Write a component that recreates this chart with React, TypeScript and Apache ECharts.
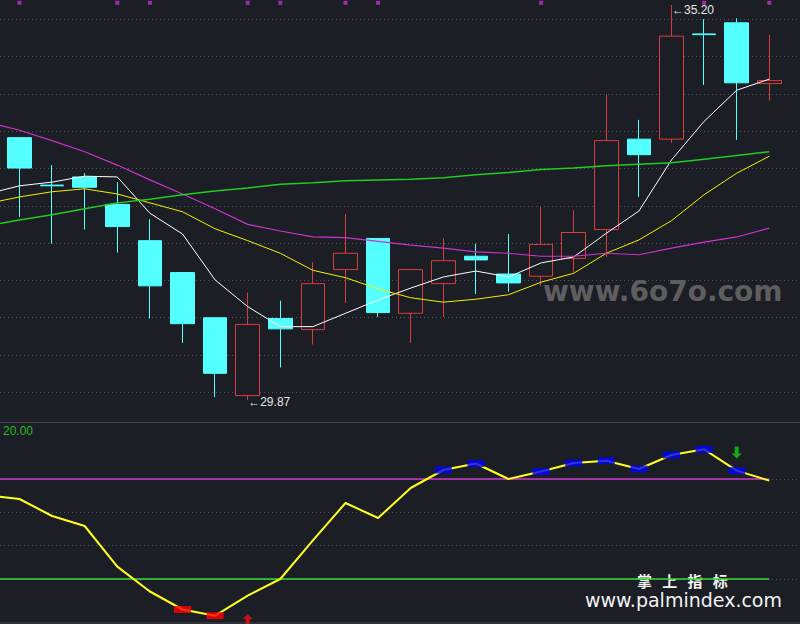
import { useEffect, useRef } from 'react';
import * as echarts from 'echarts';

// categories: leading hidden slot ("prev") keeps the indicator lines running to the left edge
const categories = ['prev', 'd01', 'd02', 'd03', 'd04', 'd05', 'd06', 'd07', 'd08', 'd09', 'd10', 'd11', 'd12',
  'd13', 'd14', 'd15', 'd16', 'd17', 'd18', 'd19', 'd20', 'd21', 'd22', 'd23', 'd24'];

// candles (24 visible days)
const opens = [33.41, 32.77, 32.88, 32.51, 32.02, 31.59, 30.98, 29.93, 30.97, 30.82, 31.63, 32.05, 31.04, 31.44, 31.81, 31.57, 31.54, 31.78, 32.17, 33.39, 33.39, 34.81, 34.96, 34.14];
const closes = [33.00, 32.76, 32.74, 32.21, 31.41, 30.90, 30.23, 30.89, 30.83, 31.44, 31.85, 31.05, 31.63, 31.75, 31.76, 31.45, 31.97, 32.13, 33.37, 33.18, 34.78, 34.80, 34.15, 34.18];
const lows = [32.34, 31.98, 32.17, 31.86, 30.97, 30.64, 29.91, 29.87, 30.31, 30.62, 31.18, 30.99, 30.64, 30.99, 31.30, 31.33, 31.41, 31.59, 31.80, 32.61, 33.34, 34.12, 33.38, 33.91];
const highs = [33.41, 33.04, 32.93, 32.81, 32.31, 31.59, 30.98, 31.32, 31.21, 31.73, 32.38, 32.05, 31.63, 32.05, 31.98, 32.11, 32.48, 32.43, 33.99, 33.65, 35.20, 35.01, 35.02, 34.80];

// moving averages (25 values incl. the hidden leading slot)
const maWhite = [32.65, 32.76, 32.81, 32.89, 32.88, 32.39, 32.11, 31.49, 31.13, 30.86, 30.86, 31.04, 31.22, 31.38, 31.53, 31.61, 31.53, 31.72, 31.80, 32.12, 32.42, 33.11, 33.63, 34.05, 34.20];
const maYellow = [32.52, 32.61, 32.68, 32.72, 32.65, 32.53, 32.41, 32.18, 32.02, 31.85, 31.62, 31.52, 31.37, 31.25, 31.19, 31.23, 31.29, 31.46, 31.58, 31.85, 32.03, 32.29, 32.64, 32.93, 33.16];
const maMagenta = [33.62, 33.51, 33.37, 33.22, 33.04, 32.84, 32.65, 32.45, 32.24, 32.15, 32.07, 32.06, 32.01, 31.96, 31.92, 31.87, 31.85, 31.81, 31.81, 31.85, 31.83, 31.92, 32.00, 32.07, 32.19];
const maGreen = [32.22, 32.30, 32.37, 32.45, 32.53, 32.58, 32.64, 32.69, 32.73, 32.78, 32.80, 32.83, 32.84, 32.85, 32.87, 32.91, 32.94, 32.98, 33.00, 33.03, 33.05, 33.07, 33.12, 33.17, 33.22];

// top flags (day indices 0..23)
const flagDays = [0, 3, 4, 7, 8, 10, 11, 16, 21, 23];
const flagLevel = 35.23;

// lower indicator (25 values incl. hidden leading slot)
const indicator = [70.3, 68.0, 57.8, 51.8, 27.4, 12.5, 1.7, -2.0, 10.0, 20.0, 43.2, 65.6, 56.6, 74.6, 85.4, 89.3, 80.0, 84.5, 89.6, 91.0, 86.0, 94.4, 97.8, 85.0, 79.0];
const blueDays = [13, 14, 16, 17, 18, 19, 20, 21, 22];
const redDays = [5, 6];
const upperLevel = 80;
const lowerLevel = 20;
const buyArrow = { day: 7, value: -4.6 };
const sellArrow = { day: 22, value: 95.9 };

const BG = '#1c1e25';
const RED = '#dc3c3c';
const CYAN = '#54ffff';

export default function App() {
  const ref = useRef<HTMLDivElement>(null);
  useEffect(() => {
    const chart = echarts.init(ref.current!, null, { renderer: 'svg' });
    const cat = (day: number) => categories[day + 1];
    const candleData: any[] = [['-', '-', '-', '-']].concat(
      opens.map((o, i) => [o, closes[i], lows[i], highs[i]]) as any
    );
    const hiIdx = highs.indexOf(Math.max(...highs));
    const loIdx = lows.indexOf(Math.min(...lows));
    const upperLine = categories.map(() => upperLevel);
    const lowerLine = categories.map(() => lowerLevel);

    const gridL = -29.4;
    const gridR = 14.4;
    const dotted = { show: true, lineStyle: { color: '#52555d', type: [1, 3] as any, width: 1 } };

    const option: any = {
      animation: false,
      backgroundColor: BG,
      textStyle: { fontFamily: 'Liberation Sans' },
      grid: [
        { left: gridL, right: gridR, top: 5, height: 395, outerBoundsMode: 'none' },
        { left: gridL, right: gridR, top: 479, height: 100, outerBoundsMode: 'none' },
        { left: 0, right: 0, top: 19.3, height: 373, outerBoundsMode: 'none' },
        { left: 0, right: 0, top: 479, height: 100, outerBoundsMode: 'none' },
      ],
      xAxis: [
        { type: 'category', gridIndex: 0, data: categories, show: false },
        { type: 'category', gridIndex: 1, data: categories, show: false },
        { type: 'value', gridIndex: 2, min: 0, max: 1, show: false },
        { type: 'value', gridIndex: 3, min: 0, max: 1, show: false },
      ],
      yAxis: [
        { type: 'value', gridIndex: 0, min: 29.87, max: 35.20, show: false },
        { type: 'value', gridIndex: 1, min: 20, max: 80, show: false },
        { type: 'value', gridIndex: 2, min: 0, max: 10, interval: 1, axisLine: { show: false }, axisTick: { show: false }, axisLabel: { show: false }, splitLine: dotted },
        { type: 'value', gridIndex: 3, min: 0, max: 3, interval: 1, axisLine: { show: false }, axisTick: { show: false }, axisLabel: { show: false }, splitLine: dotted },
      ],
      series: [
        {
          type: 'candlestick',
          xAxisIndex: 0, yAxisIndex: 0,
          data: candleData,
          barWidth: 24,
          itemStyle: { color: BG, color0: CYAN, borderColor: RED, borderColor0: CYAN, borderWidth: 1 },
          markPoint: {
            symbol: 'circle', symbolSize: 1,
            itemStyle: { color: 'rgba(0,0,0,0)' },
            label: { show: true, position: 'right', distance: 0, color: '#e6e6e6', fontSize: 12, fontFamily: 'Liberation Sans' },
            data: [
              { coord: [cat(hiIdx), highs[hiIdx]], label: { formatter: '\u2190' + highs[hiIdx].toFixed(2), offset: [0, 5] } },
              { coord: [cat(loIdx), lows[loIdx]], label: { formatter: '\u2190' + lows[loIdx].toFixed(2), offset: [0, 2] } },
            ],
          },
        },
        { type: 'line', xAxisIndex: 0, yAxisIndex: 0, data: maWhite, symbol: 'none', lineStyle: { color: '#ffffff', width: 1 } },
        { type: 'line', xAxisIndex: 0, yAxisIndex: 0, data: maYellow, symbol: 'none', lineStyle: { color: '#f0f000', width: 1 } },
        { type: 'line', xAxisIndex: 0, yAxisIndex: 0, data: maMagenta, symbol: 'none', lineStyle: { color: '#cc33cc', width: 1.2 } },
        { type: 'line', xAxisIndex: 0, yAxisIndex: 0, data: maGreen, symbol: 'none', lineStyle: { color: '#22cc22', width: 1.5 } },
        {
          type: 'scatter', xAxisIndex: 0, yAxisIndex: 0, clip: false,
          symbol: 'rect', symbolSize: 4, itemStyle: { color: '#c030c0' },
          data: flagDays.map((d) => [cat(d), flagLevel]),
        },
        {
          type: 'line', xAxisIndex: 1, yAxisIndex: 1, clip: false, silent: true,
          data: upperLine, symbol: 'none', lineStyle: { color: '#c83cc8', width: 1.5 },
        },
        {
          type: 'line', xAxisIndex: 1, yAxisIndex: 1, clip: false, silent: true,
          data: lowerLine, symbol: 'none', lineStyle: { color: '#36e036', width: 1.6 },
        },
        {
          type: 'line', xAxisIndex: 1, yAxisIndex: 1, clip: false,
          data: indicator, symbol: 'none', lineStyle: { color: '#ffff22', width: 2 },
        },
        {
          type: 'scatter', xAxisIndex: 1, yAxisIndex: 1, clip: false, z: 4,
          symbol: 'rect', symbolSize: [17, 7], itemStyle: { color: '#0000ff' },
          data: blueDays.map((d) => [cat(d), indicator[d + 1]]),
        },
        {
          type: 'scatter', xAxisIndex: 1, yAxisIndex: 1, clip: false, z: 4,
          symbol: 'rect', symbolSize: [17, 7], itemStyle: { color: '#ff0000' },
          data: redDays.map((d) => [cat(d), indicator[d + 1]]),
        },
        {
          type: 'scatter', xAxisIndex: 1, yAxisIndex: 1, clip: false, z: 4,
          symbol: 'path://M5,0 L10,5 L7,5 L7,12 L3,12 L3,5 L0,5 Z', symbolSize: [10, 12],
          itemStyle: { color: '#ee1111' },
          data: [[cat(buyArrow.day), buyArrow.value]],
        },
        {
          type: 'scatter', xAxisIndex: 1, yAxisIndex: 1, clip: false, z: 4,
          symbol: 'path://M3,0 L7,0 L7,7 L10,7 L5,12 L0,7 L3,7 Z', symbolSize: [10, 12],
          itemStyle: { color: '#11cc11' },
          data: [[cat(sellArrow.day), sellArrow.value]],
        },
      ],
      graphic: [
        { type: 'line', silent: true, shape: { x1: 0, y1: 422.5, x2: 800, y2: 422.5 }, style: { stroke: '#45474f', lineWidth: 1 } },
        { type: 'line', silent: true, shape: { x1: 0, y1: 623, x2: 800, y2: 623 }, style: { stroke: '#45474f', lineWidth: 1 } },
        { type: 'text', silent: true, x: 3, y: 431, style: { text: '20.00', fill: '#22bb22', font: '12px "Liberation Sans"', textVerticalAlign: 'middle' } },
        { type: 'text', silent: true, x: 543, y: 291, style: { text: 'www.6o7o.com', fill: '#5e5e5e', font: 'bold 28px "DejaVu Sans"', textVerticalAlign: 'middle' } },
        { type: 'text', silent: true, x: 637, y: 580.5, style: { text: '掌   上   指   标', fill: '#f2f2f2', font: 'bold 15px "Noto Sans CJK SC"', textVerticalAlign: 'middle' } },
        { type: 'text', silent: true, x: 585, y: 600, style: { text: 'www.palmindex.com', fill: '#f2f2f2', font: '19px "DejaVu Sans"', textVerticalAlign: 'middle' } },
      ],
    };
    chart.setOption(option);
    return () => chart.dispose();
  }, []);
  return <div ref={ref} style={{ position: 'fixed', left: 0, top: 0, width: 800, height: 624 }} />;
}
